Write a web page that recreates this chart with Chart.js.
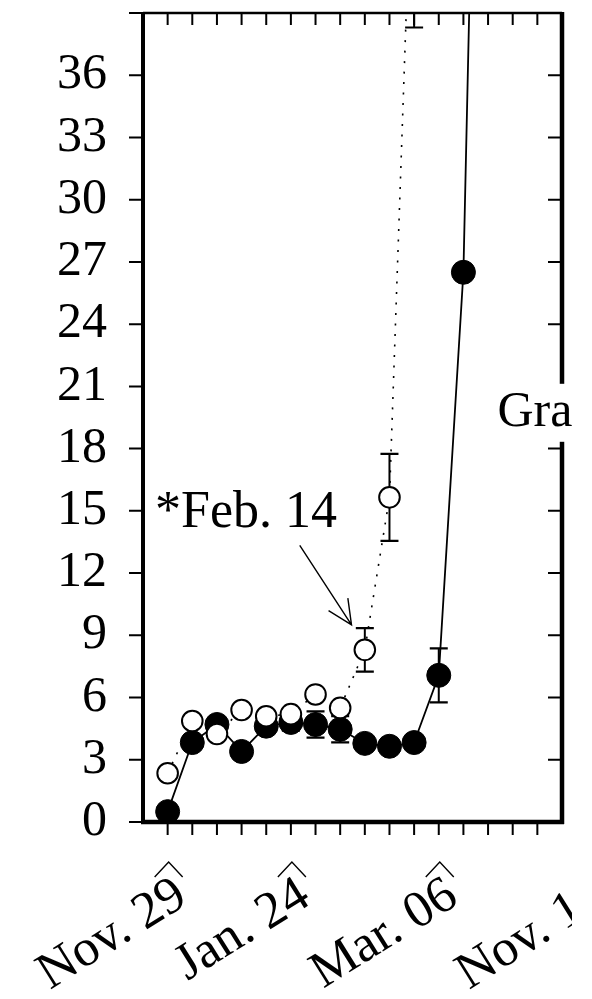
<!DOCTYPE html>
<html>
<head>
<meta charset="utf-8">
<script src="https://cdn.jsdelivr.net/npm/chart.js@4.4.0/dist/chart.umd.min.js"></script>
<style>
html,body{margin:0;padding:0;background:#fff;}
canvas{display:block;}
</style>
</head>
<body>
<canvas id="c" width="592" height="999" style="width:592px;height:999px"></canvas>
<script>
// ---- data ----
const sampleIndex = [0, 1, 2, 3, 4, 5, 6, 7, 8, 9, 10, 11, 12, 13];
const filledMeans = [0.5, 3.83, 4.7, 3.4, 4.62, 4.8, 4.7, 4.47, 3.79, 3.65, 3.83, 7.07, 26.5, 80];
const filledErr   = [0, 0, 0, 0, 0.32, 0.4, 0.63, 0.63, 0, 0, 0, 1.3, 0, 0];
const openMeans   = [2.35, 4.87, 4.24, 5.4, 5.1, 5.2, 6.15, 5.5, 8.3, 15.65, 50];
const openErr     = [0, 0, 0, 0, 0, 0, 0, 0, 1.05, 2.1, 11.7];
const yTickValues = [0, 3, 6, 9, 12, 15, 18, 21, 24, 27, 30, 33, 36];
const yTickMarks  = [0, 3, 6, 9, 12, 15, 18, 21, 24, 27, 30, 33, 36, 39];
const xTickMarks  = [0, 1, 2, 3, 4, 5, 6, 7, 8, 9, 10, 11, 12, 13, 14, 15];
const dateLabels  = ['Nov. 29', 'Jan. 24', 'Mar. 06', 'Nov. 1'];
const dateLabelAt = [0, 5, 11, 17];
const noteText = '*Feb. 14';
const sideText = 'Gra';

const SERIF = '"Liberation Serif", "Times New Roman", serif';

const errorsFor = [openErr, filledErr];

const figurePlugin = {
  id: 'figure',
  beforeDraw(chart) {
    const ctx = chart.ctx;
    ctx.save();
    ctx.beginPath();
    ctx.rect(0, 0, 572, chart.height);
    ctx.clip();
  },
  beforeDatasetDraw(chart, args) {
    const ctx = chart.ctx;
    const xs = chart.scales.x, ys = chart.scales.y, a = chart.chartArea;
    const errs = errorsFor[args.index];
    const data = chart.data.datasets[args.index].data;
    ctx.save();
    ctx.beginPath();
    ctx.rect(a.left, a.top, a.right - a.left, a.bottom - a.top);
    ctx.clip();
    ctx.strokeStyle = '#000';
    data.forEach((d, i) => {
      const e = errs[i];
      if (!e) return;
      const px = xs.getPixelForValue(d.x);
      const yt = ys.getPixelForValue(d.y + e);
      const yb = ys.getPixelForValue(d.y - e);
      ctx.lineWidth = 2;
      ctx.beginPath();
      ctx.moveTo(px, yt); ctx.lineTo(px, yb);
      ctx.stroke();
      ctx.lineWidth = 2.2;
      ctx.beginPath();
      ctx.moveTo(px - 9, yt); ctx.lineTo(px + 9, yt);
      ctx.moveTo(px - 9, yb); ctx.lineTo(px + 9, yb);
      ctx.stroke();
    });
    ctx.restore();
  },
  afterDatasetsDraw(chart) {
    const ctx = chart.ctx;
    const xs = chart.scales.x, ys = chart.scales.y, a = chart.chartArea;
    ctx.save();
    ctx.strokeStyle = '#000';
    ctx.fillStyle = '#000';
    // frame
    ctx.lineCap = 'butt';
    ctx.lineWidth = 2.5;
    ctx.beginPath(); ctx.moveTo(a.left, a.top); ctx.lineTo(a.right, a.top); ctx.stroke();
    ctx.lineWidth = 4.5;
    ctx.beginPath(); ctx.moveTo(a.left - 2, a.bottom); ctx.lineTo(a.right + 2, a.bottom); ctx.stroke();
    ctx.lineWidth = 4;
    ctx.beginPath(); ctx.moveTo(a.left, a.top - 1); ctx.lineTo(a.left, a.bottom + 2); ctx.stroke();
    ctx.lineWidth = 4.5;
    ctx.beginPath(); ctx.moveTo(a.right, a.top - 1); ctx.lineTo(a.right, a.bottom + 2); ctx.stroke();
    // y tick marks: outward left, inward right
    ctx.lineWidth = 2;
    yTickMarks.forEach(v => {
      const py = ys.getPixelForValue(v);
      ctx.beginPath();
      ctx.moveTo(a.left - 14, py); ctx.lineTo(a.left, py);
      ctx.moveTo(a.right - 14, py); ctx.lineTo(a.right, py);
      ctx.stroke();
    });
    // x tick marks: outward bottom, inward top
    xTickMarks.forEach(v => {
      const px = xs.getPixelForValue(v);
      ctx.beginPath();
      ctx.moveTo(px, a.bottom); ctx.lineTo(px, a.bottom + 13);
      ctx.moveTo(px, a.top); ctx.lineTo(px, a.top + 12);
      ctx.stroke();
    });
    // date labels, rotated, with caret marks
    ctx.font = '52px ' + SERIF;
    dateLabels.forEach((txt, i) => {
      const px = xs.getPixelForValue(dateLabelAt[i]);
      ctx.lineWidth = 1.4;
      ctx.beginPath();
      ctx.moveTo(px - 13, a.bottom + 55);
      ctx.lineTo(px + 1, a.bottom + 40);
      ctx.lineTo(px + 15, a.bottom + 55);
      ctx.stroke();
      ctx.save();
      ctx.translate(px + 21.6, a.bottom + 81);
      ctx.rotate(-32 * Math.PI / 180);
      ctx.textAlign = 'right';
      ctx.textBaseline = 'alphabetic';
      const missing = Math.max(0, 7 - txt.length);
      ctx.fillText(txt, -missing * ctx.measureText('0').width, 0);
      ctx.restore();
    });
    // annotation text and arrow
    ctx.font = '52px ' + SERIF;
    ctx.textAlign = 'left';
    ctx.textBaseline = 'alphabetic';
    ctx.fillText(noteText, xs.getPixelForValue(-0.51), ys.getPixelForValue(14.2));
    const tx = xs.getPixelForValue(5.36), ty = ys.getPixelForValue(13.34);
    const hx = xs.getPixelForValue(7.46), hy = ys.getPixelForValue(9.5);
    const ang = Math.atan2(ty - hy, tx - hx);
    ctx.lineWidth = 1.4;
    ctx.beginPath();
    ctx.moveTo(tx, ty); ctx.lineTo(hx, hy);
    ctx.moveTo(hx + 27 * Math.cos(ang - 0.44), hy + 27 * Math.sin(ang - 0.44));
    ctx.lineTo(hx, hy);
    ctx.lineTo(hx + 27 * Math.cos(ang + 0.44), hy + 27 * Math.sin(ang + 0.44));
    ctx.stroke();
    // side label on white background
    const gx = xs.getPixelForValue(13.38), gy = ys.getPixelForValue(19.1);
    ctx.fillStyle = '#fff';
    ctx.fillRect(gx - 6, gy - 42, 100, 58);
    ctx.fillStyle = '#000';
    ctx.font = '50px ' + SERIF;
    ctx.fillText(sideText, gx, gy);
    ctx.restore();
  },
  afterDraw(chart) {
    chart.ctx.restore();
  }
};

new Chart(document.getElementById('c').getContext('2d'), {
  type: 'line',
  data: {
    datasets: [
      {
        label: 'open',
        data: openMeans.map((v, i) => ({ x: sampleIndex[i], y: v })),
        borderColor: '#000',
        borderWidth: 1.6,
        borderDash: [2, 8.5],
        pointRadius: 10.3,
        pointBorderWidth: 2,
        pointBorderColor: '#000',
        pointBackgroundColor: '#fff',
        tension: 0,
        fill: false,
        order: 0
      },
      {
        label: 'filled',
        data: filledMeans.map((v, i) => ({ x: sampleIndex[i], y: v })),
        borderColor: '#000',
        borderWidth: 1.8,
        pointRadius: 12,
        pointBorderWidth: 1,
        pointBorderColor: '#000',
        pointBackgroundColor: '#000',
        tension: 0,
        fill: false,
        order: 1
      }
    ]
  },
  options: {
    responsive: false,
    animation: false,
    devicePixelRatio: 1,
    layout: { padding: { top: 6, right: 30, left: 0, bottom: 0 } },
    plugins: { legend: { display: false }, tooltip: { enabled: false } },
    scales: {
      x: {
        type: 'linear', min: -1, max: 16,
        grid: { display: false, drawTicks: false },
        border: { display: false },
        ticks: { display: false },
        afterFit(s) { s.height = 177; s.paddingLeft = 0; s.paddingRight = 0; }
      },
      y: {
        type: 'linear', min: 0, max: 39,
        grid: { display: false, drawTicks: false },
        border: { display: false },
        ticks: { color: '#000', padding: 36, font: { family: SERIF, size: 50 } },
        afterBuildTicks(s) { s.ticks = yTickValues.map(v => ({ value: v })); },
        afterFit(s) { s.width = 143; s.paddingTop = 0; s.paddingBottom = 0; }
      }
    }
  },
  plugins: [figurePlugin]
});
</script>
</body>
</html>
